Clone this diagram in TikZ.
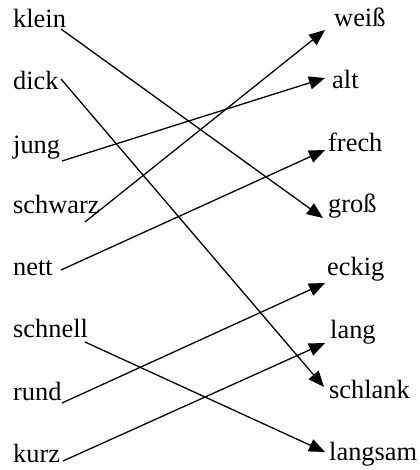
\documentclass[tikz,border=0pt]{standalone}
\usepackage{fontspec}
\setmainfont{Liberation Serif}
\usetikzlibrary{arrows.meta}
\tikzset{
  word/.style={anchor=base west, inner sep=0pt, font=\fontsize{26.5}{31}\selectfont},
  link/.style={line width=1.3bp, -{Triangle[length=16bp, width=13bp]}}
}
\begin{document}
\begin{tikzpicture}[x=1bp, y=-1bp]
\useasboundingbox (0,0) rectangle (419,470);
% left words
\node[word] (klein) at (13,28) {klein};
\node[word] (dick) at (13,90) {dick};
\node[word] (jung) at (13,154) {jung};
\node[word] (schwarz) at (13,214) {schwarz};
\node[word] (nett) at (13,275) {nett};
\node[word] (schnell) at (13,337) {schnell};
\node[word] (rund) at (13,400) {rund};
\node[word] (kurz) at (13,462) {kurz};
% right words
\node[word] (weiss) at (334,27) {weiß};
\node[word] (alt) at (332,89) {alt};
\node[word] (frech) at (328,152) {frech};
\node[word] (gross) at (328,213) {groß};
\node[word] (eckig) at (327,275) {eckig};
\node[word] (lang) at (330,338) {lang};
\node[word] (schlank) at (329,398) {schlank};
\node[word] (langsam) at (329,460) {langsam};
% connector ends
\coordinate (s1) at (61,29);
\coordinate (s2) at (61,79);
\coordinate (s3) at (62,161);
\coordinate (s4) at (85,222);
\coordinate (s5) at (61,270);
\coordinate (s6) at (85,342);
\coordinate (s7) at (62,403);
\coordinate (s8) at (63,461);
\coordinate (t1) at (323,218);
\coordinate (t2) at (324,387);
\coordinate (t3) at (325,78);
\coordinate (t4) at (325,30);
\coordinate (t5) at (325,150);
\coordinate (t6) at (325,452);
\coordinate (t7) at (325,283);
\coordinate (t8) at (325,343);
\draw[link] (s1) -- (t1);
\draw[link] (s2) -- (t2);
\draw[link] (s3) -- (t3);
\draw[link] (s4) -- (t4);
\draw[link] (s5) -- (t5);
\draw[link] (s6) -- (t6);
\draw[link] (s7) -- (t7);
\draw[link] (s8) -- (t8);
\end{tikzpicture}
\end{document}
